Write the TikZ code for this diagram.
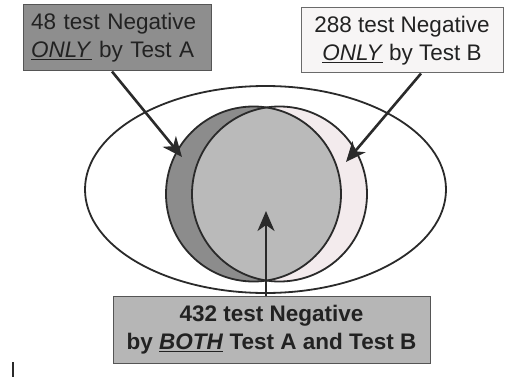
\documentclass[tikz,border=0pt]{standalone}
\usepackage{fontspec}
\setmainfont{Liberation Sans}
\usetikzlibrary{arrows.meta,shapes.geometric}
\definecolor{boxAfill}{HTML}{8E8E8E}
\definecolor{onlyA}{HTML}{8C8C8C}
\definecolor{both}{HTML}{BABABA}
\definecolor{onlyB}{HTML}{F3EBED}
\definecolor{boxCfill}{HTML}{B6B6B6}
\definecolor{boxBfill}{HTML}{F7F5F5}
\definecolor{ink}{HTML}{222222}
\definecolor{edge}{HTML}{2A2A2A}
\tikzset{
  labelbox/.style={draw=#1, line width=1pt, text=ink, inner xsep=8pt, inner ysep=0pt,
    font=\fontsize{22.5pt}{28pt}\selectfont},
  venn/.style={draw=edge, line width=1.8pt},
  pointer/.style={draw=edge, line width=2.6pt, -{Stealth[length=20pt,width=17pt,inset=6pt]}},
}
\begin{document}
\begin{tikzpicture}[x=1pt,y=-1pt]
\useasboundingbox (0,0) rectangle (508,377);
\fill[white] (0,0) rectangle (508,377);

% outer ellipse
\node[venn, ellipse, fill=white, minimum width=361pt, minimum height=207pt, inner sep=0pt]
  (outer) at (265.5,189.5) {};

% circles
\fill[onlyA] (253.5,194) circle [radius=87.5];
\fill[onlyB] (279.5,194) circle [radius=87.5];
\begin{scope}
  \clip (253.5,194) circle [radius=87.5];
  \fill[both] (279.5,194) circle [radius=87.5];
\end{scope}
\draw[venn] (253.5,194) circle [radius=87.5];
\draw[venn] (279.5,194) circle [radius=87.5];

% label boxes
\node[labelbox=edge!80, fill=boxAfill, minimum width=188pt, minimum height=66pt,
      text width=172pt, align=left] (boxA) at (117,38)
  {48 test Negative\\\underline{\textit{ONLY}} by Test A};
\node[labelbox=edge!70, fill=boxBfill, minimum width=202pt, minimum height=65pt,
      align=center] (boxB) at (402,40.5)
  {288 test Negative\\\underline{\textit{ONLY}} by Test B};
\node[labelbox=edge!80, fill=boxCfill, minimum width=317pt, minimum height=67pt,
      align=center, font=\fontsize{22.5pt}{28pt}\selectfont\bfseries] (boxC) at (271.5,329.5)
  {432 test Negative\\by \underline{\textit{BOTH}} Test A and Test B};

% arrow targets
\coordinate (tipA) at (182,157);
\coordinate (tipB) at (346,162);
\coordinate (tipC) at (266,211);

\draw[pointer] ([xshift=-5pt]boxA.south) -- (tipA);
\draw[pointer] ([xshift=19pt]boxB.south) -- (tipB);
\draw[pointer] ([xshift=-5.5pt]boxC.north) -- (tipC);

% stray mark at bottom left
\coordinate (markTop) at (13,362);
\coordinate (markBot) at (13,377);
\draw[edge, line width=1.8pt] (markTop) -- (markBot);
\end{tikzpicture}
\end{document}
